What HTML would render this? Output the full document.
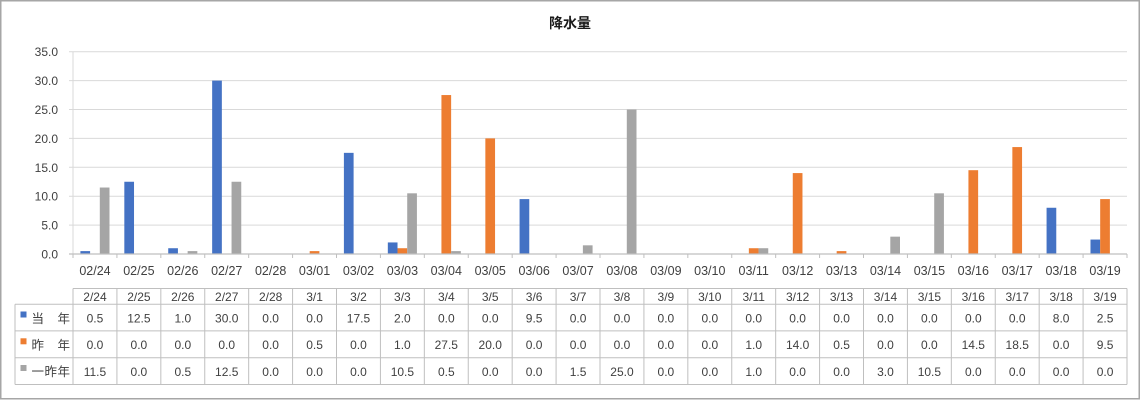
<!DOCTYPE html>
<html><head><meta charset="utf-8"><style>
html,body{margin:0;padding:0;background:#fff;}
svg{display:block;}
text{font-family:"Liberation Sans","Noto Sans CJK JP",sans-serif;fill:#404040;}
</style></head><body>
<svg width="1141" height="400" viewBox="0 0 1141 400" xmlns="http://www.w3.org/2000/svg">
<rect x="0" y="0" width="1141" height="400" fill="#fff"/>
<rect x="0.75" y="0.75" width="1138.5" height="398" fill="none" stroke="#a6a6a6" stroke-width="1.5"/>
<text x="570" y="28" text-anchor="middle" font-size="14" font-weight="bold" style="fill:#1a1a1a">降水量</text>
<!-- gridlines -->
<g stroke="#d9d9d9" stroke-width="1">
<line x1="69" y1="51.7" x2="1127" y2="51.7"/>
<line x1="69" y1="80.6" x2="1127" y2="80.6"/>
<line x1="69" y1="109.5" x2="1127" y2="109.5"/>
<line x1="69" y1="138.4" x2="1127" y2="138.4"/>
<line x1="69" y1="167.3" x2="1127" y2="167.3"/>
<line x1="69" y1="196.2" x2="1127" y2="196.2"/>
<line x1="69" y1="225.1" x2="1127" y2="225.1"/>
<line x1="73" y1="51.7" x2="73" y2="254"/>
</g>
<g font-size="12" text-anchor="end">
<text x="58" y="56">35.0</text>
<text x="58" y="85">30.0</text>
<text x="58" y="114">25.0</text>
<text x="58" y="143">20.0</text>
<text x="58" y="172">15.0</text>
<text x="58" y="200.5">10.0</text>
<text x="58" y="229.5">5.0</text>
<text x="58" y="258.5">0.0</text>
</g>
<!-- bars blue -->
<g fill="#4472c4">
<rect x="80.4" y="251.11" width="9.7" height="2.89"/>
<rect x="124.32" y="181.75" width="9.7" height="72.25"/>
<rect x="168.23" y="248.22" width="9.7" height="5.78"/>
<rect x="212.15" y="80.6" width="9.7" height="173.4"/>
<rect x="343.9" y="152.85" width="9.7" height="101.15"/>
<rect x="387.82" y="242.44" width="9.7" height="11.56"/>
<rect x="519.57" y="199.09" width="9.7" height="54.91"/>
<rect x="1046.57" y="207.76" width="9.7" height="46.24"/>
<rect x="1090.48" y="239.55" width="9.7" height="14.45"/>
</g>
<g fill="#ed7d31">
<rect x="309.68" y="251.11" width="9.7" height="2.89"/>
<rect x="397.52" y="248.22" width="9.7" height="5.78"/>
<rect x="441.43" y="95.05" width="9.7" height="158.95"/>
<rect x="485.35" y="138.4" width="9.7" height="115.6"/>
<rect x="748.85" y="248.22" width="9.7" height="5.78"/>
<rect x="792.77" y="173.08" width="9.7" height="80.92"/>
<rect x="836.68" y="251.11" width="9.7" height="2.89"/>
<rect x="968.43" y="170.19" width="9.7" height="83.81"/>
<rect x="1012.35" y="147.07" width="9.7" height="106.93"/>
<rect x="1100.18" y="199.09" width="9.7" height="54.91"/>
</g>
<g fill="#a5a5a5">
<rect x="99.8" y="187.53" width="9.7" height="66.47"/>
<rect x="187.63" y="251.11" width="9.7" height="2.89"/>
<rect x="231.55" y="181.75" width="9.7" height="72.25"/>
<rect x="407.22" y="193.31" width="9.7" height="60.69"/>
<rect x="451.13" y="251.11" width="9.7" height="2.89"/>
<rect x="582.88" y="245.33" width="9.7" height="8.67"/>
<rect x="626.8" y="109.5" width="9.7" height="144.5"/>
<rect x="758.55" y="248.22" width="9.7" height="5.78"/>
<rect x="890.3" y="236.66" width="9.7" height="17.34"/>
<rect x="934.22" y="193.31" width="9.7" height="60.69"/>
</g>
<!-- axis -->
<line x1="69" y1="254" x2="1127" y2="254" stroke="#bfbfbf" stroke-width="1.2"/>
<g stroke="#bfbfbf" stroke-width="1">
<line x1="73" y1="254" x2="73" y2="258"/><line x1="116.92" y1="254" x2="116.92" y2="258"/><line x1="160.83" y1="254" x2="160.83" y2="258"/><line x1="204.75" y1="254" x2="204.75" y2="258"/><line x1="248.67" y1="254" x2="248.67" y2="258"/><line x1="292.58" y1="254" x2="292.58" y2="258"/><line x1="336.5" y1="254" x2="336.5" y2="258"/><line x1="380.42" y1="254" x2="380.42" y2="258"/><line x1="424.33" y1="254" x2="424.33" y2="258"/><line x1="468.25" y1="254" x2="468.25" y2="258"/><line x1="512.17" y1="254" x2="512.17" y2="258"/><line x1="556.08" y1="254" x2="556.08" y2="258"/><line x1="600" y1="254" x2="600" y2="258"/><line x1="643.92" y1="254" x2="643.92" y2="258"/><line x1="687.83" y1="254" x2="687.83" y2="258"/><line x1="731.75" y1="254" x2="731.75" y2="258"/><line x1="775.67" y1="254" x2="775.67" y2="258"/><line x1="819.58" y1="254" x2="819.58" y2="258"/><line x1="863.5" y1="254" x2="863.5" y2="258"/><line x1="907.42" y1="254" x2="907.42" y2="258"/><line x1="951.33" y1="254" x2="951.33" y2="258"/><line x1="995.25" y1="254" x2="995.25" y2="258"/><line x1="1039.17" y1="254" x2="1039.17" y2="258"/><line x1="1083.08" y1="254" x2="1083.08" y2="258"/><line x1="1127" y1="254" x2="1127" y2="258"/>
</g>
<!-- category labels -->
<g font-size="12.5" text-anchor="middle">
<text x="94.96" y="275">02/24</text><text x="138.88" y="275">02/25</text><text x="182.79" y="275">02/26</text><text x="226.71" y="275">02/27</text><text x="270.63" y="275">02/28</text><text x="314.54" y="275">03/01</text><text x="358.46" y="275">03/02</text><text x="402.38" y="275">03/03</text><text x="446.29" y="275">03/04</text><text x="490.21" y="275">03/05</text><text x="534.13" y="275">03/06</text><text x="578.04" y="275">03/07</text><text x="621.96" y="275">03/08</text><text x="665.88" y="275">03/09</text><text x="709.79" y="275">03/10</text><text x="753.71" y="275">03/11</text><text x="797.63" y="275">03/12</text><text x="841.54" y="275">03/13</text><text x="885.46" y="275">03/14</text><text x="929.38" y="275">03/15</text><text x="973.29" y="275">03/16</text><text x="1017.21" y="275">03/17</text><text x="1061.13" y="275">03/18</text><text x="1105.04" y="275">03/19</text>
</g>
<!-- table lines -->
<g stroke="#bfbfbf" stroke-width="1">
<line x1="73" y1="288.5" x2="1127" y2="288.5"/>
<line x1="15" y1="304.3" x2="1127" y2="304.3"/>
<line x1="15" y1="330.9" x2="1127" y2="330.9"/>
<line x1="15" y1="357.7" x2="1127" y2="357.7"/>
<line x1="15" y1="384.5" x2="1127" y2="384.5"/>
<line x1="15" y1="304.3" x2="15" y2="384.5"/>
<line x1="73" y1="288.5" x2="73" y2="384.5"/><line x1="116.92" y1="288.5" x2="116.92" y2="384.5"/><line x1="160.83" y1="288.5" x2="160.83" y2="384.5"/><line x1="204.75" y1="288.5" x2="204.75" y2="384.5"/><line x1="248.67" y1="288.5" x2="248.67" y2="384.5"/><line x1="292.58" y1="288.5" x2="292.58" y2="384.5"/><line x1="336.5" y1="288.5" x2="336.5" y2="384.5"/><line x1="380.42" y1="288.5" x2="380.42" y2="384.5"/><line x1="424.33" y1="288.5" x2="424.33" y2="384.5"/><line x1="468.25" y1="288.5" x2="468.25" y2="384.5"/><line x1="512.17" y1="288.5" x2="512.17" y2="384.5"/><line x1="556.08" y1="288.5" x2="556.08" y2="384.5"/><line x1="600" y1="288.5" x2="600" y2="384.5"/><line x1="643.92" y1="288.5" x2="643.92" y2="384.5"/><line x1="687.83" y1="288.5" x2="687.83" y2="384.5"/><line x1="731.75" y1="288.5" x2="731.75" y2="384.5"/><line x1="775.67" y1="288.5" x2="775.67" y2="384.5"/><line x1="819.58" y1="288.5" x2="819.58" y2="384.5"/><line x1="863.5" y1="288.5" x2="863.5" y2="384.5"/><line x1="907.42" y1="288.5" x2="907.42" y2="384.5"/><line x1="951.33" y1="288.5" x2="951.33" y2="384.5"/><line x1="995.25" y1="288.5" x2="995.25" y2="384.5"/><line x1="1039.17" y1="288.5" x2="1039.17" y2="384.5"/><line x1="1083.08" y1="288.5" x2="1083.08" y2="384.5"/><line x1="1127" y1="288.5" x2="1127" y2="384.5"/>
</g>
<!-- row labels -->
<rect x="20.5" y="311.5" width="6" height="6" fill="#4472c4"/>
<rect x="20.5" y="338.3" width="6" height="6" fill="#ed7d31"/>
<rect x="20.5" y="365" width="6" height="6" fill="#a5a5a5"/>
<g font-size="12.5">
<text x="31.5" y="322.8">当</text><text x="57.5" y="322.8">年</text>
<text x="31.5" y="349.5">昨</text><text x="57.5" y="349.5">年</text>
<text x="31.5" y="376.2" textLength="38.5" lengthAdjust="spacing">一昨年</text>
</g>
<g font-size="12" text-anchor="middle">
<text x="94.96" y="301">2/24</text><text x="138.88" y="301">2/25</text><text x="182.79" y="301">2/26</text><text x="226.71" y="301">2/27</text><text x="270.63" y="301">2/28</text><text x="314.54" y="301">3/1</text><text x="358.46" y="301">3/2</text><text x="402.38" y="301">3/3</text><text x="446.29" y="301">3/4</text><text x="490.21" y="301">3/5</text><text x="534.13" y="301">3/6</text><text x="578.04" y="301">3/7</text><text x="621.96" y="301">3/8</text><text x="665.88" y="301">3/9</text><text x="709.79" y="301">3/10</text><text x="753.71" y="301">3/11</text><text x="797.63" y="301">3/12</text><text x="841.54" y="301">3/13</text><text x="885.46" y="301">3/14</text><text x="929.38" y="301">3/15</text><text x="973.29" y="301">3/16</text><text x="1017.21" y="301">3/17</text><text x="1061.13" y="301">3/18</text><text x="1105.04" y="301">3/19</text>

<text x="94.96" y="322.5">0.5</text><text x="138.88" y="322.5">12.5</text><text x="182.79" y="322.5">1.0</text><text x="226.71" y="322.5">30.0</text><text x="270.63" y="322.5">0.0</text><text x="314.54" y="322.5">0.0</text><text x="358.46" y="322.5">17.5</text><text x="402.38" y="322.5">2.0</text><text x="446.29" y="322.5">0.0</text><text x="490.21" y="322.5">0.0</text><text x="534.13" y="322.5">9.5</text><text x="578.04" y="322.5">0.0</text><text x="621.96" y="322.5">0.0</text><text x="665.88" y="322.5">0.0</text><text x="709.79" y="322.5">0.0</text><text x="753.71" y="322.5">0.0</text><text x="797.63" y="322.5">0.0</text><text x="841.54" y="322.5">0.0</text><text x="885.46" y="322.5">0.0</text><text x="929.38" y="322.5">0.0</text><text x="973.29" y="322.5">0.0</text><text x="1017.21" y="322.5">0.0</text><text x="1061.13" y="322.5">8.0</text><text x="1105.04" y="322.5">2.5</text>

<text x="94.96" y="349.2">0.0</text><text x="138.88" y="349.2">0.0</text><text x="182.79" y="349.2">0.0</text><text x="226.71" y="349.2">0.0</text><text x="270.63" y="349.2">0.0</text><text x="314.54" y="349.2">0.5</text><text x="358.46" y="349.2">0.0</text><text x="402.38" y="349.2">1.0</text><text x="446.29" y="349.2">27.5</text><text x="490.21" y="349.2">20.0</text><text x="534.13" y="349.2">0.0</text><text x="578.04" y="349.2">0.0</text><text x="621.96" y="349.2">0.0</text><text x="665.88" y="349.2">0.0</text><text x="709.79" y="349.2">0.0</text><text x="753.71" y="349.2">1.0</text><text x="797.63" y="349.2">14.0</text><text x="841.54" y="349.2">0.5</text><text x="885.46" y="349.2">0.0</text><text x="929.38" y="349.2">0.0</text><text x="973.29" y="349.2">14.5</text><text x="1017.21" y="349.2">18.5</text><text x="1061.13" y="349.2">0.0</text><text x="1105.04" y="349.2">9.5</text>

<text x="94.96" y="375.9">11.5</text><text x="138.88" y="375.9">0.0</text><text x="182.79" y="375.9">0.5</text><text x="226.71" y="375.9">12.5</text><text x="270.63" y="375.9">0.0</text><text x="314.54" y="375.9">0.0</text><text x="358.46" y="375.9">0.0</text><text x="402.38" y="375.9">10.5</text><text x="446.29" y="375.9">0.5</text><text x="490.21" y="375.9">0.0</text><text x="534.13" y="375.9">0.0</text><text x="578.04" y="375.9">1.5</text><text x="621.96" y="375.9">25.0</text><text x="665.88" y="375.9">0.0</text><text x="709.79" y="375.9">0.0</text><text x="753.71" y="375.9">1.0</text><text x="797.63" y="375.9">0.0</text><text x="841.54" y="375.9">0.0</text><text x="885.46" y="375.9">3.0</text><text x="929.38" y="375.9">10.5</text><text x="973.29" y="375.9">0.0</text><text x="1017.21" y="375.9">0.0</text><text x="1061.13" y="375.9">0.0</text><text x="1105.04" y="375.9">0.0</text>
</g>
</svg>
</body></html>
